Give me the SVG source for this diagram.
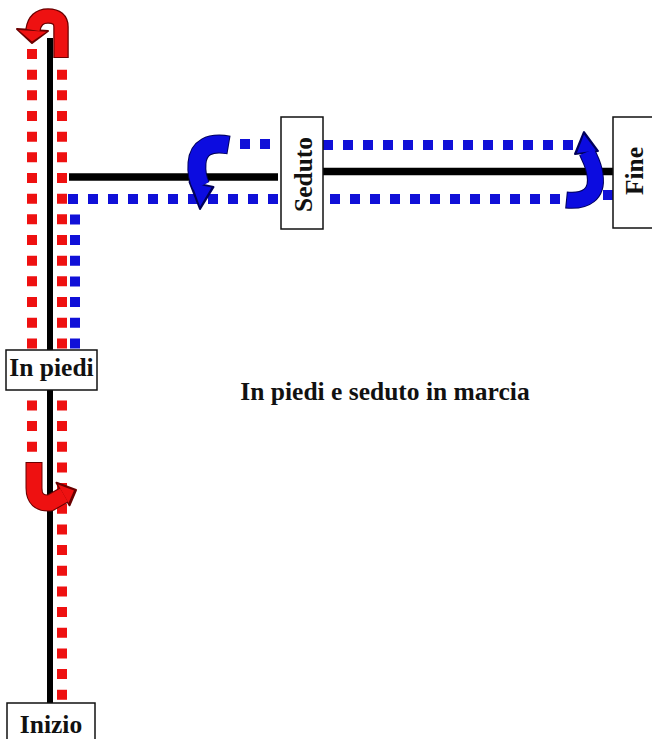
<svg xmlns="http://www.w3.org/2000/svg" width="652" height="739" viewBox="0 0 652 739">
<style>
.lbl{font-family:"Liberation Serif","Times New Roman",serif;font-weight:bold;font-size:25.5px;fill:#111;text-anchor:middle}
.box{fill:#fff;stroke:#111;stroke-width:1.5}
.blk{stroke:#000;fill:none}
.rd{stroke:#ee1111;stroke-width:10;fill:none;stroke-dasharray:10 10.67}
.bd{stroke:#1010d8;stroke-width:10;fill:none;stroke-dasharray:10 10}
.bsq{fill:#1010d8}
.rout{stroke:#6a0000;fill:none;stroke-linejoin:round}
.rin{stroke:#ee1111;fill:none;stroke-linejoin:round}
.bout{stroke:#00005a;fill:none;stroke-linejoin:round}
.bin{stroke:#0c0ce0;fill:none;stroke-linejoin:round}
</style>
<rect width="652" height="739" fill="#fff"/>
<g id="connectors">
  <!-- black track lines -->
  <line class="blk" x1="50" y1="38" x2="50" y2="704" stroke-width="6"/>
  <line class="blk" x1="69" y1="177" x2="278" y2="177" stroke-width="7.5"/>
  <line class="blk" x1="323" y1="171.5" x2="614" y2="171.5" stroke-width="7.5"/>
  <!-- red dotted path -->
  <line class="rd" x1="32" y1="49" x2="32" y2="452"/>
  <line class="rd" x1="62" y1="69.67" x2="62" y2="700"/>
  <!-- blue dotted path -->
  <line class="bd" x1="75" y1="214.4" x2="75" y2="348.4" style="stroke-dasharray:10 10.67"/>
  <line class="bd" x1="68" y1="199" x2="278" y2="199"/>
  <line class="bd" x1="240" y1="144" x2="270" y2="144"/>
  <line class="bd" x1="323" y1="145" x2="573" y2="145"/>
  <line class="bd" x1="330" y1="199" x2="560" y2="199"/>
  <rect class="bsq" x="603" y="190" width="10" height="10"/>
  <!-- red U-turn arrow (top) -->
  <g id="arrow-red-top">
    <path class="rout" d="M61,58 V27 Q61,16 48,16 Q35,16 33,30" stroke-width="15.5"/>
    <polygon points="17,29 48,31 32,43" fill="#6a0000" stroke="#6a0000" stroke-width="2" stroke-linejoin="round"/>
    <path class="rin" d="M61,57 V27 Q61,16 48,16 Q35,16 33,30" stroke-width="13"/>
    <polygon points="18.5,30 46.5,31.8 32,41.5" fill="#ee1111"/>
  </g>
  <!-- red U-turn arrow (lower) -->
  <g id="arrow-red-low">
    <path class="rout" d="M34,462 V488 Q34,504 50,503 L64,495" stroke-width="17"/>
    <polygon points="56.5,482.7 69.5,505.3 76,490" fill="#6a0000" stroke="#6a0000" stroke-width="2" stroke-linejoin="round"/>
    <path class="rin" d="M34,463 V488 Q34,504 50,503 L64,495" stroke-width="15"/>
    <polygon points="58,484.5 68.5,503 74,490.5" fill="#ee1111"/>
  </g>
  <!-- blue turn arrow near Seduto -->
  <g id="arrow-blue-left">
    <path class="bout" d="M229,145 Q199,140 197,163 Q196,176 201,186" stroke-width="19"/>
    <polygon points="189.5,182 213.5,187 200,209" fill="#00005a" stroke="#00005a" stroke-width="2" stroke-linejoin="round"/>
    <path class="bin" d="M228,145 Q199,140 197,163 Q196,176 201,186" stroke-width="17"/>
    <polygon points="191.5,183 211.5,187.5 200,206.5" fill="#0c0ce0"/>
  </g>
  <!-- blue turn arrow near Fine -->
  <g id="arrow-blue-right">
    <path class="bout" d="M566,200 C586,202 598,194 595,175 C594,165 590,159 587,152" stroke-width="17"/>
    <polygon points="575,154 598,151 584,132" fill="#00005a" stroke="#00005a" stroke-width="2" stroke-linejoin="round"/>
    <path class="bin" d="M567,200 C586,202 598,194 595,175 C594,165 590,159 587,152" stroke-width="15"/>
    <polygon points="577,153 596,150.5 584,134.5" fill="#0c0ce0"/>
  </g>
</g>
<g id="node-inizio">
  <rect class="box" x="7" y="703" width="88" height="45"/>
  <text class="lbl" x="51" y="733">Inizio</text>
</g>
<g id="node-in-piedi">
  <rect class="box" x="6" y="350" width="91" height="40"/>
  <text class="lbl" x="51.5" y="376">In piedi</text>
</g>
<g id="node-seduto">
  <rect class="box" x="281" y="117" width="42" height="112"/>
  <text class="lbl" transform="translate(312,174.5) rotate(-90)">Seduto</text>
</g>
<g id="node-fine">
  <rect class="box" x="613" y="117" width="50" height="111"/>
  <text class="lbl" transform="translate(643,171) rotate(-90)">Fine</text>
</g>
<g id="title">
  <text class="lbl" x="385" y="400">In piedi e seduto in marcia</text>
</g>
</svg>
